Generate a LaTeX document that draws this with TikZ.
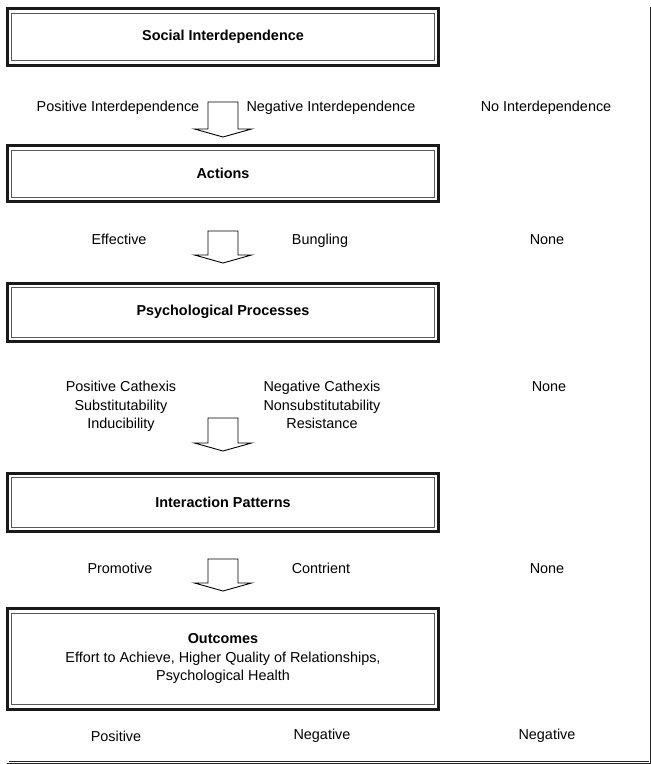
\documentclass[tikz,border=0pt]{standalone}
\usepackage{fontspec}
\setmainfont{Liberation Sans}
\begin{document}
\begin{tikzpicture}[x=1pt,y=-1pt,
  every node/.style={font=\fontsize{14.4}{18.5}\selectfont},
  box/.style={draw=black!90, line width=3pt, minimum width=431.5pt, inner sep=0pt, outer sep=0pt, align=center, fill=white},
  innerline/.style={draw=black!65, line width=0.8pt},
  lbl/.style={inner sep=0pt, outer sep=0pt, align=center, anchor=north},
  baselbl/.style={inner sep=0pt, outer sep=0pt, anchor=base},
  frameline/.style={draw=black!85, line width=0.6pt, double=white, double distance=1.2pt},
  arrowline/.style={draw=black, line width=0.9pt, fill=white, line join=miter},
  pics/blockdown/.style={code={\draw[arrowline] (-15,0) -- (-15,#1) -- (-28.5,#1) -- (0,{#1+8}) -- (28.5,#1) -- (15,#1) -- (15,0) -- cycle;}}
]
\useasboundingbox (0,0) rectangle (651,764);
\draw[frameline] (8,8) rectangle (649.8,762.6);

\node[box, minimum height=56.5pt] (b1) at (223,36.75) {\textbf{Social Interdependence}};
\node[box, minimum height=56pt] (b2) at (223,173.5) {\textbf{Actions}};
\node[box, minimum height=58.5pt] (b3) at (223,312.25) {\textbf{Psychological Processes}};
\node[box, minimum height=58.5pt] (b4) at (223,502.25) {\textbf{Interaction Patterns}};
\node[box, minimum height=100.5pt] (b5) at (223,658.75) {\textbf{Outcomes}\\Effort to Achieve, Higher Quality of Relationships,\\Psychological Health};

\foreach \b in {b1,b2,b3,b4,b5}
  \draw[innerline] ([shift={(4.5,4.5)}]\b.north west) rectangle ([shift={(-4.5,-4.5)}]\b.south east);

\node[baselbl] (pi) at (118,111) {Positive Interdependence};
\node[baselbl] (ni) at (331,111) {Negative Interdependence};
\node[baselbl] (noi) at (546,111) {No Interdependence};
\node[baselbl] (ef) at (119,244) {Effective};
\node[baselbl] (bu) at (320,244) {Bungling};
\node[baselbl] (n1) at (547,244) {None};
\node[lbl] (pc) at (121,381.5) {Positive Cathexis\\Substitutability\\Inducibility};
\node[lbl] (nc) at (322,381.5) {Negative Cathexis\\Nonsubstitutability\\Resistance};
\node[baselbl] (n2) at (549,391.5) {None};
\node[baselbl] (pr) at (120,573) {Promotive};
\node[baselbl] (co) at (321,573) {Contrient};
\node[baselbl] (n3) at (547,573) {None};
\node[baselbl] (po) at (116,741) {Positive};
\node[baselbl] (ne1) at (322,739) {Negative};
\node[baselbl] (ne2) at (547,739) {Negative};

\pic (ar1) at (223,102) {blockdown=27};
\pic (ar2) at (223,231) {blockdown=24};
\pic (ar3) at (223,418) {blockdown=25};
\pic (ar4) at (223,559) {blockdown=24};
\end{tikzpicture}
\end{document}
